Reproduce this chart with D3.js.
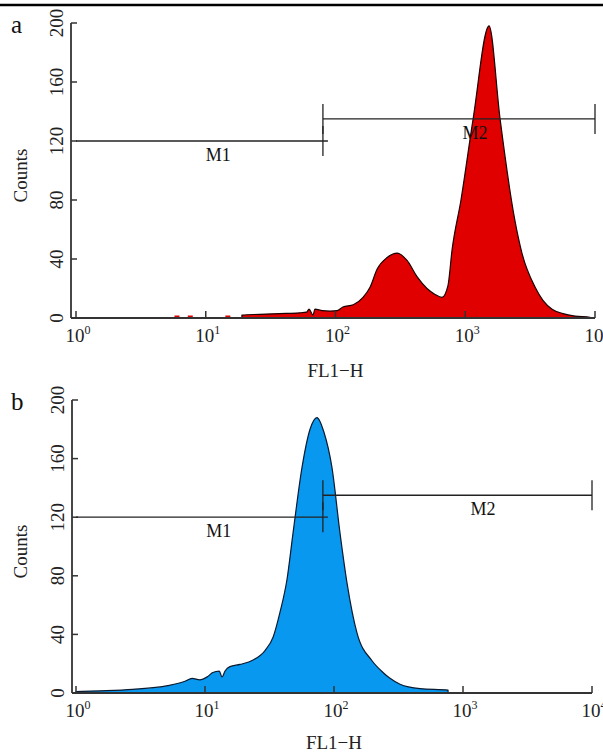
<!DOCTYPE html>
<html><head><meta charset="utf-8">
<script src="https://cdn.jsdelivr.net/npm/d3@7"></script>
<style>body{margin:0;background:#fff} svg{display:block}</style>
</head><body>
<script>
// ---- data ----
const yTicks = [0, 40, 80, 120, 160, 200];
const xTicks = [1, 10, 100, 1000, 10000];
const xTickExp = ["0", "1", "2", "3", "4"];

// panel a (red histogram): FL1-H value and counts
const aFL = [19, 26, 37, 53, 60, 62.5, 67, 69.5, 79, 91, 103, 114, 137, 163, 185, 209, 250, 298, 356, 425, 507, 585, 662, 736, 791, 927, 1150, 1525, 1855, 2415, 2735, 3450, 3970, 4670, 5660, 7015, 9140];
const aCounts = [2, 2.5, 3, 3.5, 4, 6, 2, 6, 5, 4.7, 5, 7.5, 9, 14, 21, 33, 41, 44, 39, 28, 20, 16, 14, 22, 46, 80, 135, 198, 135, 66, 44, 21, 12, 6, 3, 1.3, 0.5];
const aSparseFL = [6.0, 7.6, 14.8];

// panel b (blue histogram)
const bFL = [1, 1.55, 2.75, 5.13, 7.0, 7.94, 9.12, 10.4, 11.5, 12.9, 13.55, 14.3, 15.6, 18.7, 23.6, 29.2, 33.7, 38.1, 43.3, 48.1, 56.5, 65.2, 73.8, 83.6, 96.4, 111.4, 126.2, 150.7, 197.2, 239.9, 271.6, 325.1, 464.5, 765.6];
const bCounts = [1, 1.5, 2.5, 5, 8, 10, 9, 11, 14, 15, 11, 15, 18, 19.5, 22.5, 29, 38, 55, 78, 109, 154, 180, 188, 178, 154, 109, 75, 41, 22, 14, 10, 6, 3, 2];

// markers
const markerNames = ["M1", "M2"];
const aMarkerFrom = [1, 80], aMarkerTo = [80, 10000], aMarkerLevel = [120, 135], aMarkerLabelAt = [12.5, 1190];
const bMarkerFrom = [1, 82], bMarkerTo = [82, 10000], bMarkerLevel = [120, 135], bMarkerLabelAt = [12.8, 1430];

// ---- drawing ----
const W = 603, H = 753;
const svg = d3.select("body").append("svg").attr("width", W).attr("height", H);
const FONT = "'Liberation Serif', 'Times New Roman', serif";

svg.append("line").attr("x1", 0).attr("x2", W).attr("y1", 5).attr("y2", 5)
  .attr("stroke", "#000").attr("stroke-width", 2.5);

function panel(cfg) {
  const x = d3.scaleLog().domain([1, 10000]).range(cfg.xr);
  const y = d3.scaleLinear().domain([0, 200]).range(cfg.yr);
  const g = svg.append("g");
  const axisCol = "#333";

  // histogram area
  const pts = cfg.fl.map((v, i) => [v, cfg.counts[i]]);
  const full = [[cfg.fl[0], 0], ...pts, [cfg.fl[cfg.fl.length - 1], 0]];
  const area = d3.area().x(d => x(d[0])).y0(y(0)).y1(d => y(d[1])).curve(d3.curveMonotoneX);
  const line = d3.line().x(d => x(d[0])).y(d => y(d[1])).curve(d3.curveMonotoneX);
  g.append("path").datum(full).attr("d", area).attr("fill", cfg.fill);
  g.append("path").datum(full).attr("d", line).attr("fill", "none")
    .attr("stroke", cfg.outline).attr("stroke-width", 1.2).attr("stroke-linejoin", "round");

  if (cfg.sparse) {
    g.selectAll("line.sp").data(cfg.sparse).enter().append("line")
      .attr("x1", d => x(d) - 2.5).attr("x2", d => x(d) + 2.5)
      .attr("y1", y(0) - 1.5).attr("y2", y(0) - 1.5)
      .attr("stroke", cfg.fill).attr("stroke-width", 2);
  }

  // axes
  g.append("line").attr("x1", cfg.axisX).attr("x2", cfg.axisX).attr("y1", y(200)).attr("y2", y(0))
    .attr("stroke", axisCol).attr("stroke-width", 1.8);
  g.append("line").attr("x1", cfg.axisX).attr("x2", x(10000)).attr("y1", y(0)).attr("y2", y(0))
    .attr("stroke", axisCol).attr("stroke-width", 1.8);
  g.selectAll("line.yt").data(yTicks).enter().append("line")
    .attr("x1", cfg.axisX).attr("x2", cfg.axisX + 6).attr("y1", d => y(d)).attr("y2", d => y(d))
    .attr("stroke", axisCol).attr("stroke-width", 1.5);
  g.selectAll("text.yl").data(yTicks).enter().append("text")
    .attr("transform", d => `translate(${cfg.axisX - 8},${y(d)}) rotate(-90)`)
    .attr("text-anchor", "middle").attr("font-family", FONT).attr("font-size", 19)
    .attr("fill", "#222").text(d => d);
  g.selectAll("line.xt").data(xTicks).enter().append("line")
    .attr("x1", d => x(d)).attr("x2", d => x(d)).attr("y1", y(0)).attr("y2", y(0) - 7)
    .attr("stroke", axisCol).attr("stroke-width", 1.5);
  const xl = g.selectAll("text.xl").data(xTicks).enter().append("text")
    .attr("x", d => x(d) + 2).attr("y", y(0) + 24)
    .attr("text-anchor", "middle").attr("font-family", FONT).attr("font-size", 19).attr("fill", "#222");
  xl.append("tspan").text("10");
  xl.append("tspan").attr("dy", -8).attr("font-size", 12).text((d, i) => xTickExp[i]);

  g.append("text").attr("x", x(100)).attr("y", y(0) + cfg.titleDy).attr("text-anchor", "middle")
    .attr("font-family", FONT).attr("font-size", 19).attr("fill", "#222").text("FL1\u2212H");
  g.append("text").attr("transform", `translate(27,${(y(0) + y(200)) / 2 + 5}) rotate(-90)`)
    .attr("text-anchor", "middle").attr("font-family", FONT).attr("font-size", 19)
    .attr("fill", "#222").text("Counts");
  g.append("text").attr("x", 11).attr("y", y(200) + 10).attr("font-family", FONT)
    .attr("font-size", 25).attr("fill", "#111").text(cfg.letter);

  // markers
  markerNames.forEach((name, i) => {
    const x1 = Math.max(x(cfg.mFrom[i]), cfg.axisX), x2 = x(cfg.mTo[i]), yy = y(cfg.mLevel[i]);
    const ext = i === 0 ? 5 : 0;
    g.append("line").attr("x1", x1).attr("x2", x2 + ext).attr("y1", yy).attr("y2", yy)
      .attr("stroke", "#222").attr("stroke-width", 1.3);
    const ends = i === 0 ? [x2] : [x1, x2];
    ends.forEach(ex => {
      g.append("line").attr("x1", ex).attr("x2", ex).attr("y1", yy - 15).attr("y2", yy + 15)
        .attr("stroke", "#222").attr("stroke-width", 1.3);
    });
    g.append("text").attr("x", x(cfg.mLabel[i])).attr("y", yy + 20).attr("text-anchor", "middle")
      .attr("font-family", FONT).attr("font-size", 18).attr("fill", "#111").text(name);
  });
}

panel({ xr: [76, 595], yr: [318, 23], axisX: 71, fl: aFL, counts: aCounts, sparse: aSparseFL,
  fill: "#e00000", outline: "#1a0000", letter: "a", titleDy: 59,
  mFrom: aMarkerFrom, mTo: aMarkerTo, mLevel: aMarkerLevel, mLabel: aMarkerLabelAt });
panel({ xr: [76, 592], yr: [693, 400], axisX: 72, fl: bFL, counts: bCounts, sparse: null,
  fill: "#0898f0", outline: "#0a1a30", letter: "b", titleDy: 56,
  mFrom: bMarkerFrom, mTo: bMarkerTo, mLevel: bMarkerLevel, mLabel: bMarkerLabelAt });
</script>
</body></html>
